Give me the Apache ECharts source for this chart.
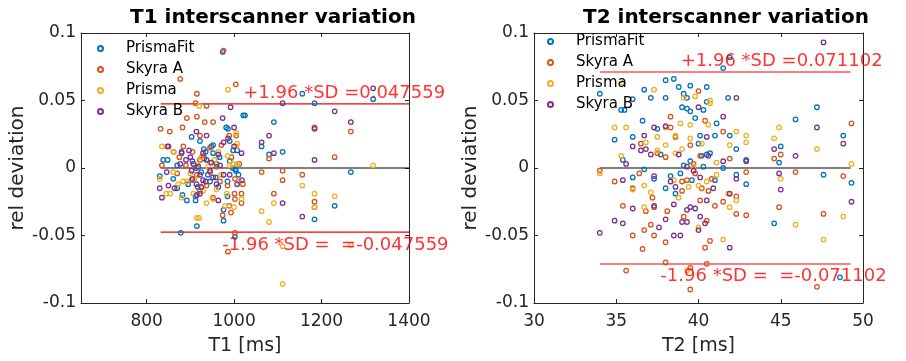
<!DOCTYPE html>
<html>
<head>
<meta charset="utf-8">
<script src="https://cdn.jsdelivr.net/npm/echarts@6/dist/echarts.min.js"></script>
<style>
  html, body { margin: 0; padding: 0; background: #fff; }
  #chart { width: 906px; height: 361px; }
</style>
</head>
<body>
<div id="chart"></div>
<script>
// scanner names (legend)
const scanners = ['PrismaFit', 'Skyra A', 'Prisma', 'Skyra B']
const scannerColors = ['#0072BD', '#D95319', '#EDB120', '#7E2F8E']

// T1 [ms] vs relative deviation, one array per scanner
const t1PrismaFit = [[974,0.086],[1318,0.051],[1156,0.055],[1184,0.048],[1021,0.039],[1025,0.039],[1091,0.034],[982,0.030],[986,0.029],[1063,0.016],[1080,0.010],[1111,0.012],[990,0.020],[1267,-0.003],[1230,-0.028],[1184,-0.038],[1002,-0.051],[878,-0.048],[915,-0.043],[976,-0.031],[976,-0.039],[985,-0.021],[892,-0.024],[882,-0.020],[912,-0.024],[838,0.006],[848,0.006],[830,-0.006],[880,0.011],[903,0.023],[922,0.020],[931,0.014],[948,0.016],[952,0.017],[952,0.011],[964,-0.014],[945,-0.010],[998,0.013],[1007,0.013],[912,-0.021],[861,-0.008],[917,-0.014],[997,0.000],[1003,-0.001],[985,-0.010],[1004,-0.002],[932,0.007],[914,0.000],[967,0.008],[870,-0.015],[940,-0.005],[960,0.003],[905,0.005],[925,-0.003],[958,-0.007],[990,0.005],[870,0.002],[935,0.012],[1010,-0.005],[895,-0.012]]
const t1SkyraA = [[976,0.087],[877,0.066],[1004,0.062],[915,0.055],[912,0.048],[937,0.046],[832,0.029],[853,0.027],[882,0.030],[892,0.037],[915,0.038],[933,0.034],[952,0.034],[847,0.016],[862,0.012],[884,0.016],[922,0.024],[971,0.017],[989,0.024],[1005,0.024],[1184,0.030],[1267,0.027],[1230,0.008],[1080,0.007],[835,0.002],[1063,-0.003],[1111,-0.002],[1111,-0.009],[1156,-0.005],[1091,-0.019],[1184,-0.025],[1184,-0.029],[1017,-0.019],[1001,-0.019],[1017,-0.026],[1002,-0.023],[989,-0.028],[993,-0.033],[974,-0.035],[986,-0.062],[1002,-0.048],[903,-0.009],[937,-0.013],[952,-0.022],[922,-0.017],[1002,-0.008],[994,0.008],[960,0.001],[922,0.006],[870,-0.004],[905,0.012],[945,-0.003],[985,-0.013],[890,0.002],[915,-0.005],[930,0.009],[968,-0.010],[1012,0.003],[875,0.008],[945,0.015],[1020,-0.012]]
const t1Prisma = [[986,0.058],[920,0.046],[1005,0.026],[1005,0.016],[1318,0.002],[1156,-0.013],[1184,-0.019],[1184,-0.029],[1230,-0.021],[1091,-0.026],[1063,-0.032],[1080,-0.040],[1111,-0.058],[1267,-0.057],[1111,-0.086],[915,-0.037],[920,-0.037],[835,0.016],[830,-0.008],[845,-0.019],[854,-0.019],[861,-0.003],[880,-0.022],[884,-0.010],[892,-0.010],[907,-0.019],[929,-0.017],[937,-0.026],[952,-0.023],[983,-0.019],[980,-0.028],[1000,-0.029],[990,0.002],[997,0.003],[1007,0.003],[964,0.012],[925,0.008],[907,0.003],[941,0.001],[1017,-0.023],[1007,0.018],[861,0.012],[970,-0.005],[900,-0.004],[955,0.006],[910,-0.008],[930,-0.012],[945,0.004],[918,0.002],[960,-0.016],[985,0.009],[872,-0.012],[1012,-0.010]]
const t1SkyraB = [[1318,0.059],[1111,0.048],[1230,0.042],[992,0.045],[1267,0.034],[1080,0.024],[1184,0.029],[1063,0.019],[1091,0.011],[1184,0.006],[974,0.037],[1000,0.030],[976,0.019],[986,0.022],[914,0.027],[937,0.024],[850,0.016],[880,0.012],[897,0.013],[1017,0.011],[846,-0.003],[830,-0.015],[835,-0.022],[850,-0.013],[864,-0.015],[922,-0.019],[929,-0.009],[914,-0.012],[952,-0.007],[976,-0.005],[1007,-0.012],[1018,-0.009],[1111,-0.026],[1156,-0.036],[964,-0.024],[907,0.003],[877,0.003],[937,0.006],[964,0.010],[922,-0.005],[903,-0.002],[990,-0.005],[945,-0.002],[929,0.011],[915,-0.020],[890,0.006],[960,-0.012],[900,0.008],[918,0.001],[935,-0.010],[948,0.004],[925,-0.014],[968,0.002],[905,-0.008],[1000,0.016]]

// T2 [ms] vs relative deviation
const t2PrismaFit = [[34.0,0.055],[34.9,0.021],[35.3,0.043],[35.5,0.043],[36.0,0.051],[36.0,0.023],[36.6,0.035],[36.7,0.058],[37.1,0.052],[37.5,0.029],[38.0,0.065],[38.5,0.066],[38.0,0.052],[38.8,0.060],[39.1,0.055],[39.5,0.061],[39.3,0.052],[39.0,0.045],[39.3,0.044],[39.5,0.042],[39.8,0.037],[40.1,0.024],[40.0,0.018],[40.3,0.043],[40.5,0.060],[40.5,0.049],[41.1,0.033],[41.0,0.024],[41.5,0.074],[41.9,0.082],[41.8,0.052],[41.9,0.024],[42.3,0.014],[42.3,-0.005],[42.9,0.006],[42.9,-0.012],[44.9,0.004],[45.0,0.016],[45.9,0.036],[44.6,-0.041],[47.2,0.045],[47.6,-0.005],[48.8,0.024],[49.3,-0.011],[48.6,-0.081],[35.4,0.006],[36.0,-0.007],[36.7,-0.001],[37.3,-0.008],[38.0,-0.015],[38.3,-0.006],[38.6,-0.019],[38.9,-0.004],[39.1,0.002],[39.6,-0.009],[40.3,0.001],[40.5,0.010],[40.7,0.011],[41.0,-0.009],[41.5,0.000],[39.5,0.005],[40.2,0.009],[37.7,0.010]]
const t2SkyraA = [[34.0,-0.002],[34.9,-0.010],[35.4,-0.028],[36.0,-0.015],[35.6,-0.076],[36.0,-0.050],[36.6,-0.060],[36.7,-0.046],[36.8,-0.032],[37.3,-0.050],[37.1,-0.042],[37.3,-0.029],[38.0,-0.055],[38.0,-0.070],[38.1,-0.032],[38.3,0.038],[38.3,0.030],[38.0,0.008],[39.0,-0.010],[39.0,-0.017],[39.1,-0.036],[39.5,0.017],[39.5,-0.074],[39.5,-0.090],[40.0,0.057],[40.1,0.009],[40.2,-0.015],[40.4,0.035],[40.5,-0.039],[40.5,-0.071],[40.7,-0.054],[40.4,-0.059],[40.1,-0.024],[40.6,-0.017],[41.0,-0.028],[41.5,0.027],[41.5,-0.025],[41.9,0.007],[42.3,-0.021],[42.3,-0.034],[42.9,-0.035],[42.9,-0.003],[44.6,0.007],[45.0,0.010],[44.9,-0.029],[45.9,-0.003],[47.6,-0.034],[47.2,-0.088],[48.8,-0.006],[49.3,0.033],[36.5,0.018],[37.5,0.011],[38.6,0.023],[39.3,-0.009],[39.7,0.003],[39.8,-0.004],[37.2,-0.022],[36.4,-0.004],[40.8,-0.008]]
const t2Prisma = [[34.0,-0.004],[34.9,0.030],[35.4,0.063],[35.6,0.030],[35.3,0.009],[36.0,-0.016],[36.7,-0.013],[36.8,0.019],[36.7,-0.029],[37.1,-0.018],[37.3,0.058],[37.5,0.023],[37.5,0.013],[38.0,0.030],[38.0,0.017],[38.6,0.024],[38.6,0.011],[39.0,0.014],[38.9,0.033],[39.1,0.052],[39.3,-0.076],[39.8,0.053],[39.5,0.032],[39.5,0.022],[40.0,-0.044],[40.0,-0.013],[40.2,0.018],[40.7,0.050],[40.6,0.032],[41.1,0.004],[41.1,-0.005],[41.5,-0.053],[41.8,-0.019],[41.9,-0.029],[41.9,0.017],[42.3,0.027],[42.3,-0.024],[42.9,0.019],[42.9,0.024],[44.6,0.022],[44.9,0.030],[45.0,-0.008],[45.9,-0.042],[47.2,0.014],[47.6,-0.053],[48.8,-0.036],[49.3,0.003],[38.5,-0.009],[39.4,-0.014],[39.7,0.001],[40.5,-0.010],[38.8,-0.022],[40.7,0.048]]
const t2SkyraB = [[34.0,-0.048],[34.9,-0.039],[35.4,-0.009],[35.4,-0.041],[35.6,0.003],[36.0,0.016],[36.0,-0.030],[36.5,0.013],[36.7,0.024],[36.8,0.014],[37.1,0.010],[37.3,0.030],[37.3,-0.006],[37.3,-0.028],[37.6,-0.044],[38.0,-0.038],[38.0,0.031],[38.3,-0.010],[38.5,-0.027],[38.5,-0.050],[38.8,0.010],[39.0,-0.040],[39.3,-0.031],[39.3,-0.040],[38.9,-0.050],[39.5,-0.029],[39.8,-0.030],[40.0,0.045],[40.0,-0.046],[40.4,-0.041],[40.1,-0.036],[40.5,-0.024],[40.5,0.023],[41.5,0.038],[41.5,0.005],[41.9,-0.019],[41.9,-0.059],[42.3,0.052],[42.3,-0.008],[42.9,0.005],[44.6,0.014],[44.9,-0.004],[45.0,-0.016],[45.9,0.009],[47.2,0.030],[47.6,0.093],[48.8,0.018],[49.3,-0.025],[39.3,0.001],[39.7,-0.002],[40.1,-0.007],[40.6,0.009],[38.6,-0.014],[40.9,-0.015]]

// limits of agreement (±1.96 SD) and the range the lines span
const t1Sd = 0.047559
const t2Sd = 0.071102
const t1LineRange = [832, 1400]
const t2LineRange = [34.0, 49.25]
// where the SD text sits (data coords)
const t1UpperTextAt = [1021, 0.0552]
const t1LowerTextAt = [973, -0.0574]
const t2UpperTextAt = [38.92, 0.0787]
const t2LowerTextAt = [37.68, -0.0804]

// axis ticks
const t1Ticks = [800, 1000, 1200, 1400]
const t2Ticks = [30, 35, 40, 45, 50]
const relTicks = [-0.1, -0.05, 0, 0.05, 0.1]

const FONT = 'DejaVu Sans'
const AXIS_COLOR = '#262626'

const chart = echarts.init(document.getElementById('chart'))

function xAxes(gridIndex, min, max, ticks, name) {
  const main = {
    type: 'value', gridIndex, min, max, position: 'bottom',
    name, nameLocation: 'middle', nameGap: 34,
    nameTextStyle: { fontFamily: FONT, fontSize: 19, color: AXIS_COLOR },
    axisLine: { show: true, onZero: false, lineStyle: { color: AXIS_COLOR, width: 1 } },
    axisTick: { show: true, inside: true, length: 4, customValues: ticks, lineStyle: { color: AXIS_COLOR } },
    axisLabel: { customValues: ticks, formatter: v => String(v), fontFamily: FONT, fontSize: 17, color: AXIS_COLOR, margin: 10 },
    splitLine: { show: false }
  }
  const top = {
    type: 'value', gridIndex, min, max, position: 'top',
    axisLine: { show: true, onZero: false, lineStyle: { color: AXIS_COLOR, width: 1 } },
    axisTick: { show: true, inside: true, length: 4, customValues: ticks, lineStyle: { color: AXIS_COLOR } },
    axisLabel: { show: false },
    splitLine: { show: false }
  }
  return [main, top]
}

function yAxes(gridIndex) {
  const fmt = v => String(+v.toFixed(2))
  const main = {
    type: 'value', gridIndex, min: -0.1, max: 0.1, position: 'left',
    name: 'rel deviation', nameLocation: 'middle', nameGap: 52,
    nameTextStyle: { fontFamily: FONT, fontSize: 20, color: AXIS_COLOR },
    axisLine: { show: true, onZero: false, lineStyle: { color: AXIS_COLOR, width: 1 } },
    axisTick: { show: true, inside: true, length: 4, customValues: relTicks, lineStyle: { color: AXIS_COLOR } },
    axisLabel: { customValues: relTicks, formatter: fmt, fontFamily: FONT, fontSize: 17, color: AXIS_COLOR, margin: 5 },
    splitLine: { show: false }
  }
  const right = {
    type: 'value', gridIndex, min: -0.1, max: 0.1, position: 'right',
    axisLine: { show: true, onZero: false, lineStyle: { color: AXIS_COLOR, width: 1 } },
    axisTick: { show: true, inside: true, length: 4, customValues: relTicks, lineStyle: { color: AXIS_COLOR } },
    axisLabel: { show: false },
    splitLine: { show: false }
  }
  return [main, right]
}

function scatterSeries(axisIdx, sets) {
  return sets.map((data, i) => ({
    name: scanners[i],
    type: 'scatter',
    xAxisIndex: axisIdx.x, yAxisIndex: axisIdx.y,
    data,
    symbol: 'circle',
    symbolSize: 4.5,
    itemStyle: { color: 'rgba(255,255,255,0)', borderColor: scannerColors[i], borderWidth: 1.3, opacity: 1 },
    emphasis: { disabled: true },
    z: 3
  }))
}

function refLine(axisIdx, range, y, color, width) {
  return {
    type: 'line',
    xAxisIndex: axisIdx.x, yAxisIndex: axisIdx.y,
    data: [[range[0], y], [range[1], y]],
    showSymbol: false, symbol: 'none',
    lineStyle: { color, width },
    silent: true,
    z: 2
  }
}

function sdText(axisIdx, at, text) {
  return {
    type: 'scatter',
    xAxisIndex: axisIdx.x, yAxisIndex: axisIdx.y,
    data: [at],
    symbolSize: 0,
    silent: true,
    label: {
      show: true, position: 'right', distance: 0,
      formatter: text,
      fontFamily: FONT, fontSize: 18, color: '#FF0000'
    },
    z: 4
  }
}

const left = { x: 0, y: 0 }
const right = { x: 2, y: 2 }

const legendBase = {
  data: scanners,
  orient: 'vertical',
  itemWidth: 5,
  itemHeight: 5,
  itemGap: 6,
  icon: 'circle',
  selectedMode: false,
  padding: 0,
  textStyle: { fontFamily: FONT, fontSize: 15, color: '#000', padding: [0, 0, 0, 18] }
}

const option = {
  animation: false,
  backgroundColor: '#fff',
  title: [
    { text: 'T1 interscanner variation', left: 125, top: 3,
      textStyle: { fontFamily: FONT, fontSize: 20, fontWeight: 'bold', color: '#000' } },
    { text: 'T2 interscanner variation', left: 578, top: 3,
      textStyle: { fontFamily: FONT, fontSize: 20, fontWeight: 'bold', color: '#000' } }
  ],
  legend: [
    Object.assign({}, legendBase, { left: 97, top: 41 }),
    Object.assign({}, legendBase, { left: 547, top: 34 })
  ],
  grid: [
    { left: 81, top: 33, width: 328, height: 270, outerBoundsMode: 'none', containLabel: false },
    { left: 534, top: 33, width: 329, height: 270, outerBoundsMode: 'none', containLabel: false }
  ],
  xAxis: [
    ...xAxes(0, 650, 1400, t1Ticks, 'T1 [ms]'),
    ...xAxes(1, 30, 50, t2Ticks, 'T2 [ms]')
  ],
  yAxis: [
    ...yAxes(0),
    ...yAxes(1)
  ],
  series: [
    refLine(left, t1LineRange, 0, '#000', 1),
    refLine(left, t1LineRange, t1Sd, '#FF0000', 1.2),
    refLine(left, t1LineRange, -t1Sd, '#FF0000', 1.2),
    ...scatterSeries(left, [t1PrismaFit, t1SkyraA, t1Prisma, t1SkyraB]),
    sdText(left, t1UpperTextAt, '+1.96 *SD =' + t1Sd),
    sdText(left, t1LowerTextAt, '-1.96 *SD =  =-' + t1Sd),

    refLine(right, t2LineRange, 0, '#000', 1),
    refLine(right, t2LineRange, t2Sd, '#FF0000', 1.2),
    refLine(right, t2LineRange, -t2Sd, '#FF0000', 1.2),
    ...scatterSeries(right, [t2PrismaFit, t2SkyraA, t2Prisma, t2SkyraB]),
    sdText(right, t2UpperTextAt, '+1.96 *SD =' + t2Sd),
    sdText(right, t2LowerTextAt, '-1.96 *SD =  =-' + t2Sd)
  ]
}

chart.setOption(option)
</script>
</body>
</html>
